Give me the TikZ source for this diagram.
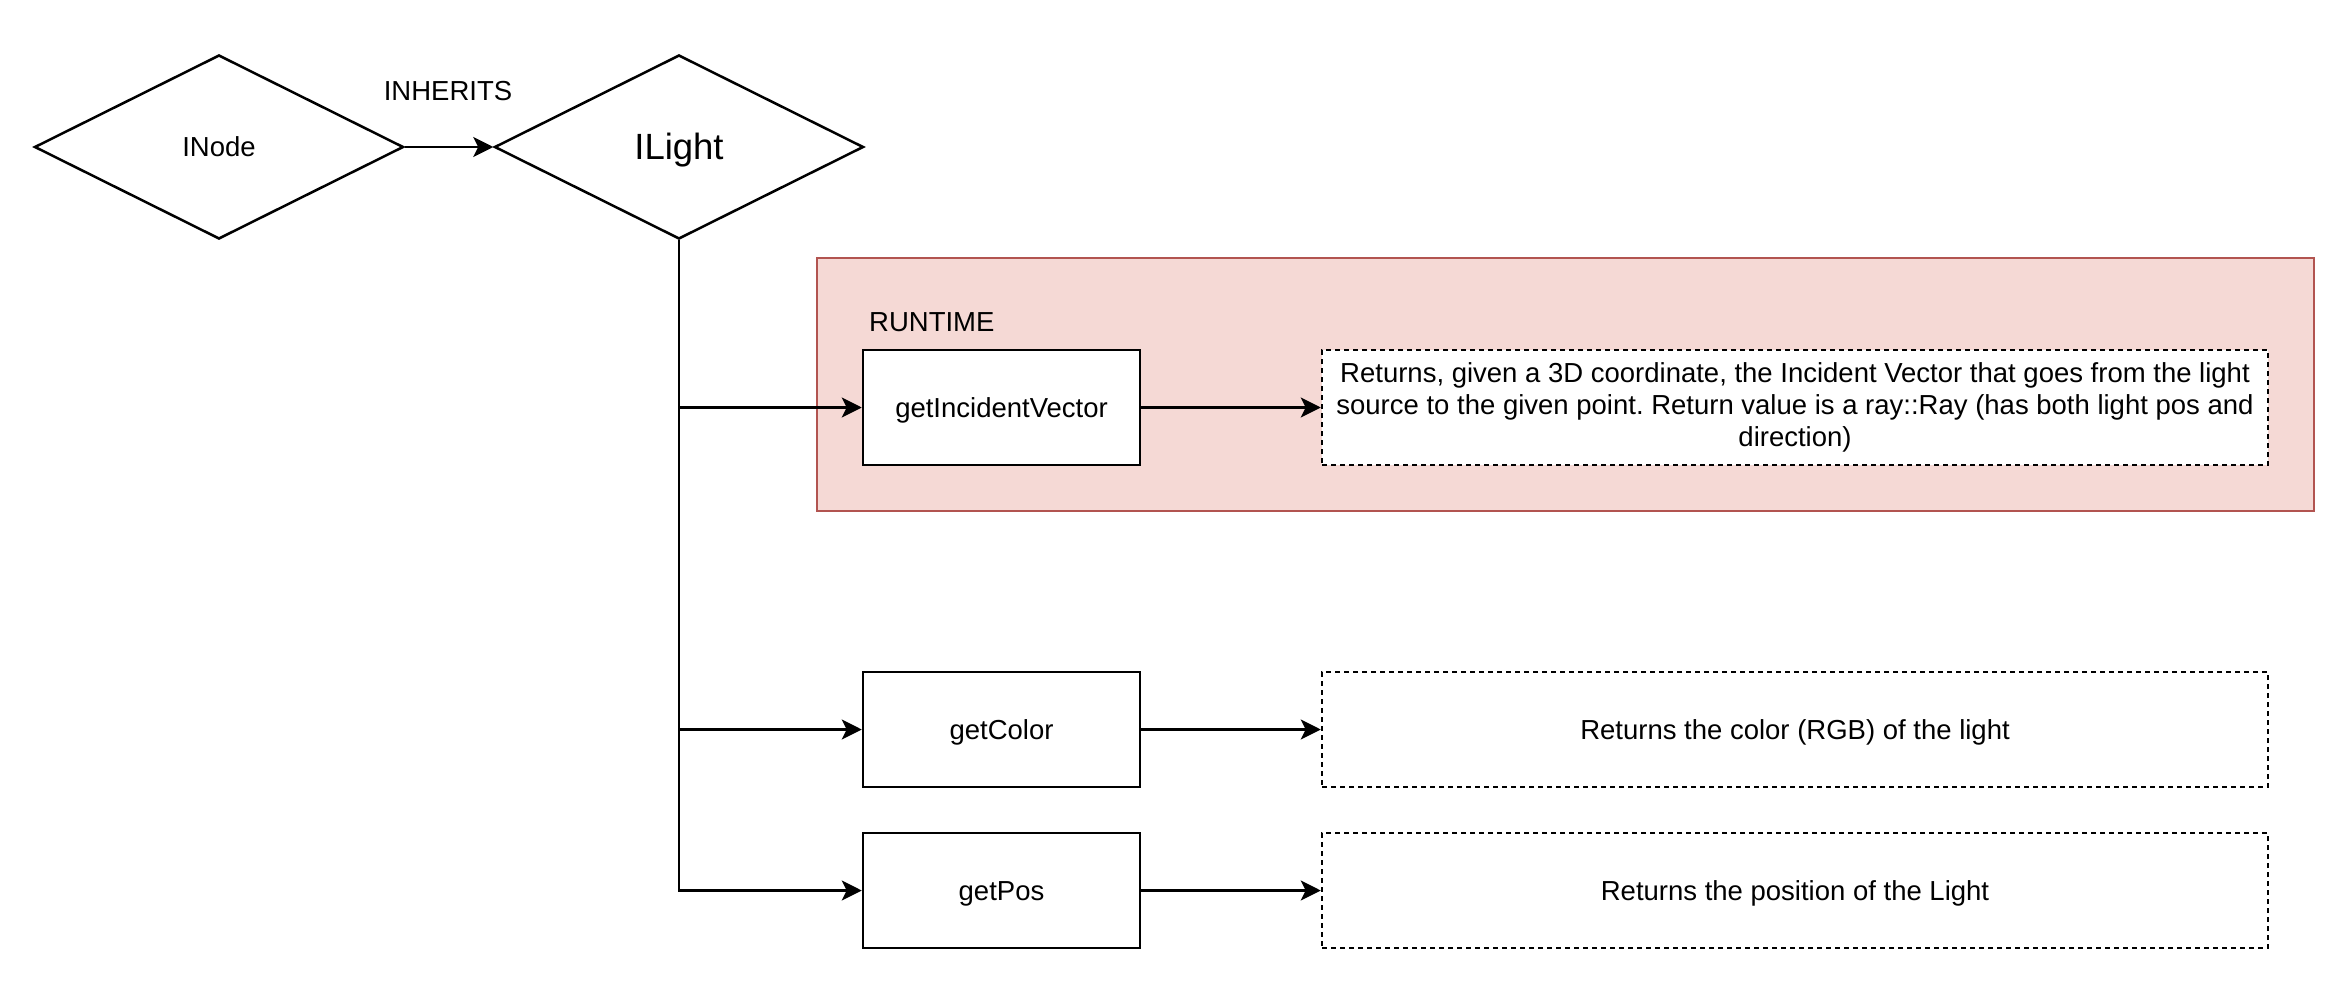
\documentclass[tikz,border=0pt]{standalone}
\usepackage{fontspec}
\setmainfont{Liberation Sans}
\frenchspacing
\usetikzlibrary{shapes.geometric,arrows.meta}

\definecolor{zonefill}{RGB}{245,217,213}
\definecolor{zoneline}{RGB}{178,84,80}

\tikzset{
  base/.style={line width=2.5pt, draw=black},
  txt/.style={font=\fontsize{27.5}{32}\selectfont, text=black},
  oneline/.style={text height=24.9pt, text depth=5.8pt},
  kind/.style={base, txt, oneline, shape=diamond, inner sep=0pt, minimum width=369pt, minimum height=184pt},
  method/.style={base, txt, oneline, fill=white, minimum width=277pt, minimum height=115pt, inner sep=0pt},
  note/.style={base, txt, fill=white, dash pattern=on 5pt off 4pt, minimum width=946pt, minimum height=115pt, inner sep=0pt, align=center},
  link/.style={base, -{Stealth[length=20pt, width=20pt, inset=5pt]}},
}

\begin{document}
\begin{tikzpicture}[x=1pt, y=-1pt]
  \useasboundingbox (0,0) rectangle (2346,990);

  % runtime zone
  \draw[line width=2.5pt, draw=zoneline, fill=zonefill] (817,258) rectangle (2314,511);
  \node[txt, anchor=west, inner sep=0pt] (runtime) at (869,322) {RUNTIME};

  % interfaces
  \node[kind] (inode) at (219,147) {INode};
  \node[kind, font=\fontsize{36.5}{40}\selectfont, text height=33pt, text depth=7.7pt] (ilight) at (679,147) {ILight};
  \node[txt, inner sep=0pt] (inherits) at (448,91) {INHERITS};

  % methods
  \node[method] (getinc) at (1001.5,407.5) {getIncidentVector};
  \node[method] (getcol) at (1001.5,729.5) {getColor};
  \node[method] (getpos) at (1001.5,890.5) {getPos};

  % descriptions
  \node[note] (dinc) at (1795,407.5) {Returns, given a 3D coordinate, the Incident Vector that goes from the light\\source to the given point. Return value is a ray::Ray (has both light pos and\\direction)};
  \node[note, oneline] (dcol) at (1795,729.5) {Returns the color (RGB) of the light};
  \node[note, oneline] (dpos) at (1795,890.5) {Returns the position of the Light};

  % connectors
  \draw[link] (inode.east) -- (ilight.west);
  \draw[link] (ilight.south) |- (getpos.west);
  \draw[link] (ilight.south |- getinc.west) -- (getinc.west);
  \draw[link] (ilight.south |- getcol.west) -- (getcol.west);
  \draw[link] (getinc.east) -- (dinc.west);
  \draw[link] (getcol.east) -- (dcol.west);
  \draw[link] (getpos.east) -- (dpos.west);
\end{tikzpicture}
\end{document}
